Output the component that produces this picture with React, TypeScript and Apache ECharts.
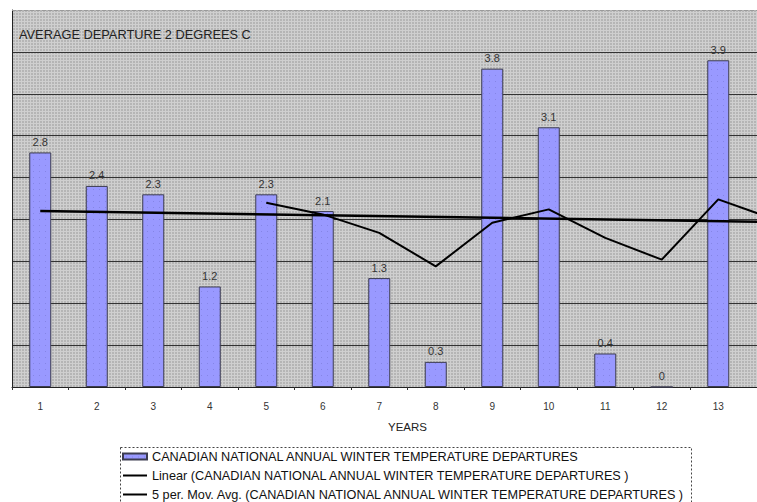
import React, { useEffect, useRef } from "react";
import * as echarts from "echarts";

const categories = ["1", "2", "3", "4", "5", "6", "7", "8", "9", "10", "11", "12", "13", "14"];
const departures = [2.8, 2.4, 2.3, 1.2, 2.3, 2.1, 1.3, 0.3, 3.8, 3.1, 0.4, 0, 3.9, null];
const linearTrend = [2.1, null, null, null, null, null, null, null, null, null, null, null, null, 1.97];
const movingAvg = [null, null, null, null, 2.2, 2.06, 1.84, 1.44, 1.96, 2.12, 1.78, 1.52, 2.24, 2.0];

const S1 = "CANADIAN NATIONAL ANNUAL WINTER TEMPERATURE DEPARTURES";
const S2 = "Linear (CANADIAN NATIONAL ANNUAL WINTER TEMPERATURE DEPARTURES )";
const S3 = "5 per. Mov. Avg. (CANADIAN NATIONAL ANNUAL WINTER TEMPERATURE DEPARTURES )";
const TITLE = "AVERAGE DEPARTURE 2 DEGREES C";
const X_NAME = "YEARS";

const FONT = "'Liberation Sans', Arial, sans-serif";
const LINE_ICON = "path://M0,0L24,0L24,2L0,2Z";

function makeBgPattern(): HTMLCanvasElement {
  const c = document.createElement("canvas");
  c.width = 3;
  c.height = 3;
  const ctx = c.getContext("2d")!;
  ctx.fillStyle = "#b5b5b5";
  ctx.fillRect(0, 0, 3, 3);
  ctx.fillStyle = "#cfcfcf";
  ctx.fillRect(0, 0, 3, 1);
  ctx.fillRect(0, 0, 1, 3);
  return c;
}

function makeBarPattern(): HTMLCanvasElement {
  const c = document.createElement("canvas");
  c.width = 6;
  c.height = 6;
  const ctx = c.getContext("2d")!;
  ctx.fillStyle = "#9999ff";
  ctx.fillRect(0, 0, 6, 6);
  ctx.fillStyle = "#8585e6";
  ctx.fillRect(3, 3, 1, 1);
  return c;
}

export default function App() {
  const ref = useRef<HTMLDivElement>(null);
  useEffect(() => {
    if (!ref.current) return;
    const chart = echarts.init(ref.current, undefined, { renderer: "svg" });
    const bg = makeBgPattern();
    const barPat = makeBarPattern();
    const splitColors = ["#333", "#333", "#333", "#333", "#333", "#333", "#333", "#333", "#333", "transparent"];
    chart.setOption({
      animation: false,
      backgroundColor: "#ffffff",
      title: {
        text: TITLE,
        left: 19,
        top: 28,
        padding: 0,
        textStyle: { fontSize: 12.8, fontWeight: "normal", color: "#222", fontFamily: FONT },
      },
      grid: {
        left: 12,
        right: 17,
        top: 10,
        bottom: 115,
        show: true,
        backgroundColor: { image: bg, repeat: "repeat" },
        borderWidth: 0,
      },
      legend: {
        orient: "vertical",
        left: 122,
        top: 450,
        padding: 0,
        itemWidth: 24,
        itemHeight: 6,
        itemGap: 6,
        symbolKeepAspect: true,
        textStyle: { fontSize: 12.7, color: "#111", fontFamily: FONT, lineHeight: 12 },
        data: [
          { name: S1, icon: "rect" },
          { name: S2, icon: LINE_ICON, itemStyle: { color: "#000" } },
          { name: S3, icon: LINE_ICON, itemStyle: { color: "#000" } },
        ],
      },
      xAxis: {
        type: "category",
        data: categories,
        name: X_NAME,
        nameLocation: "middle",
        nameGap: 34,
        nameTextStyle: { fontSize: 11.5, color: "#222", fontFamily: FONT },
        axisLine: { show: true, lineStyle: { color: "#222", width: 1 } },
        axisTick: { show: true, length: 3, lineStyle: { color: "#333" } },
        axisLabel: {
          fontSize: 10,
          color: "#333",
          margin: 14,
          fontFamily: FONT,
          interval: (i: number) => i < 13,
        },
        splitLine: { show: false },
      },
      yAxis: {
        type: "value",
        min: 0,
        max: 4.5,
        interval: 0.5,
        axisLine: { show: true, lineStyle: { color: "#222", width: 1 } },
        axisTick: { show: false },
        axisLabel: { show: false },
        splitLine: { show: true, lineStyle: { color: splitColors, width: 1 } },
      },
      graphic: [
        {
          type: "line",
          z: 100,
          shape: { x1: 12, y1: 10.5, x2: 820, y2: 10.5 },
          style: { stroke: "#9a9a9a", lineWidth: 1, lineDash: [4, 2] },
        },
        {
          type: "rect",
          z: 100,
          shape: { x: 120.5, y: 447.5, width: 571, height: 70 },
          style: { fill: "none", stroke: "#444", lineWidth: 1, lineDash: [2, 2] },
        },
      ],
      series: [
        {
          name: S1,
          type: "bar",
          data: departures,
          barWidth: 22,
          itemStyle: { color: { image: barPat, repeat: "repeat" }, borderColor: "#3c3c50", borderWidth: 1 },
          label: {
            show: true,
            position: "top",
            distance: 5,
            fontSize: 11,
            color: "#333",
            fontFamily: FONT,
          },
          z: 2,
        },
        {
          name: S2,
          type: "line",
          data: linearTrend,
          connectNulls: true,
          symbol: "none",
          lineStyle: { color: "#000", width: 2.5 },
          itemStyle: { color: "#000" },
          z: 3,
        },
        {
          name: S3,
          type: "line",
          data: movingAvg,
          symbol: "none",
          lineStyle: { color: "#000", width: 2 },
          itemStyle: { color: "#000" },
          z: 4,
        },
      ],
    });
    return () => chart.dispose();
  }, []);
  return (
    <div style={{ position: "absolute", left: 0, top: 0, width: 757, height: 502, overflow: "hidden", background: "#fff" }}>
      <div ref={ref} style={{ width: 820, height: 502 }} />
    </div>
  );
}
